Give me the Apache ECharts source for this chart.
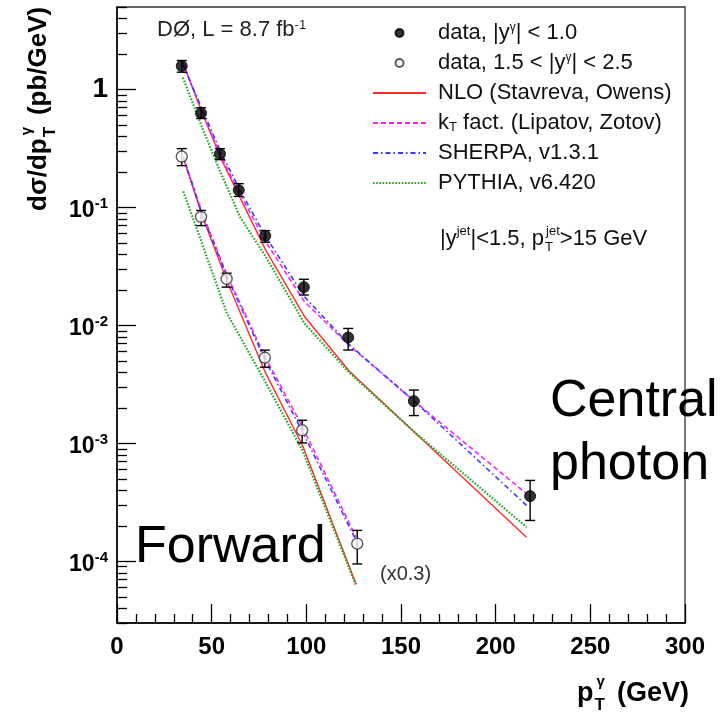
<!DOCTYPE html>
<html><head><meta charset="utf-8">
<script src="https://cdn.jsdelivr.net/npm/echarts@6/dist/echarts.min.js"></script>
<style>html,body{margin:0;padding:0;background:#fff}#c{width:727px;height:714px}</style>
</head><body><div id="c"></div>
<script>
// ---- axis ticks ----
const xTicks = [0, 50, 100, 150, 200, 250, 300];
const yMajorTicks = [1e-4, 1e-3, 1e-2, 1e-1, 1];
const yMinorTicks = [3e-5,4e-5,5e-5,6e-5,7e-5,8e-5,9e-5,
  2e-4,3e-4,4e-4,5e-4,6e-4,7e-4,8e-4,9e-4,
  2e-3,3e-3,4e-3,5e-3,6e-3,7e-3,8e-3,9e-3,
  0.02,0.03,0.04,0.05,0.06,0.07,0.08,0.09,
  0.2,0.3,0.4,0.5,0.6,0.7,0.8,0.9,
  2,3,4,5];

// ---- data: central photon |y|<1.0 ----
const centralX  = [34.2, 44.4, 54.4, 64.3, 78.3, 98.7, 122.1, 156.8, 218.2];
const centralY  = [1.58, 0.63, 0.284, 0.14, 0.0575, 0.0211, 0.0079, 0.00228, 3.57e-4];
const centralLo = [1.40, 0.567, 0.254, 0.124, 0.0506, 0.0181, 0.00618, 0.00172, 2.22e-4];
const centralHi = [1.76, 0.699, 0.315, 0.159, 0.0636, 0.0246, 0.00942, 0.00283, 4.85e-4];

// ---- data: forward photon 1.5<|y|<2.5 (x0.3) ----
const forwardX  = [34.2, 44.4, 57.9, 78.1, 97.8, 126.9];
const forwardY  = [0.27, 0.083, 0.0248, 0.00532, 0.00129, 1.41e-4];
const forwardLo = [0.226, 0.0701, 0.0211, 0.00442, 0.00101, 9.5e-5];
const forwardHi = [0.315, 0.0942, 0.0277, 0.00617, 0.00157, 1.83e-4];

// ---- theory, central ----
const thCentralX   = [34.8, 45, 55, 65, 78.5, 99, 122.5, 157, 216.3];
const nloCentral   = [1.69, 0.634, 0.258, 0.121, 0.0437, 0.0119, 0.00412, 0.00125, 1.60e-4];
const ktCentral    = [1.69, 0.64, 0.27, 0.13, 0.0514, 0.0159, 0.0068, 0.00228, 3.74e-4];
const sherpaCentral= [1.62, 0.68, 0.29, 0.14, 0.0567, 0.0175, 0.0069, 0.00228, 2.98e-4];
const pythiaCentral= [1.26, 0.475, 0.193, 0.083, 0.0384, 0.0104, 0.0040, 0.00125, 1.95e-4];

// ---- theory, forward ----
const thForwardX   = [35, 45, 58, 78, 98, 126.3];
const nloForward   = [0.263, 0.085, 0.024, 0.0041, 9.6e-4, 6.4e-5];
const ktForward    = [0.27, 0.09, 0.027, 0.0055, 0.00138, 1.60e-4];
const sherpaForward= [0.265, 0.088, 0.026, 0.0052, 0.00125, 1.50e-4];
const pythiaForward= [0.137, 0.049, 0.0127, 0.0034, 8.7e-4, 6.2e-5];

const FONT = "'Liberation Sans', Arial, Helvetica, sans-serif";

function pairs(xs, ys){ return xs.map((x,i)=>[x, ys[i]]); }

function errSeries(xs, lo, hi){
  return {
    type: 'custom', name: 'err', xAxisIndex: 0, yAxisIndex: 0, z: 5, silent: true,
    data: xs.map((x,i)=>[x, lo[i], hi[i]]),
    encode: {x: 0, y: [1, 2]},
    renderItem: function(params, api){
      const x = api.value(0);
      const a = api.coord([x, api.value(1)]);
      const b = api.coord([x, api.value(2)]);
      const c = 5;
      const st = {stroke: '#000', lineWidth: 1.4};
      return {type: 'group', children: [
        {type: 'line', shape: {x1: a[0], y1: a[1], x2: b[0], y2: b[1]}, style: st},
        {type: 'line', shape: {x1: a[0]-c, y1: a[1], x2: a[0]+c, y2: a[1]}, style: st},
        {type: 'line', shape: {x1: b[0]-c, y1: b[1], x2: b[0]+c, y2: b[1]}, style: st}
      ]};
    }
  };
}

const models = [
  {name: 'NLO',    color: '#ff2a2a', type: 'solid',        width: 1.4, c: nloCentral,    f: nloForward},
  {name: 'kT',     color: '#ff22ff', type: [5, 3],         width: 1.6, c: ktCentral,     f: ktForward},
  {name: 'SHERPA', color: '#3a3aff', type: [5, 3, 1.5, 3], width: 1.6, c: sherpaCentral, f: sherpaForward},
  {name: 'PYTHIA', color: '#1fa81f', type: [1.6, 1.6],     width: 2.2, c: pythiaCentral, f: pythiaForward}
];

const series = [];
models.forEach(m => {
  [[thCentralX, m.c], [thForwardX, m.f]].forEach(([xs, ys]) => {
    series.push({
      type: 'line', name: m.name, data: pairs(xs, ys), showSymbol: false, symbol: 'none',
      z: 3, smooth: false, animation: false,
      lineStyle: {color: m.color, type: m.type, width: m.width},
      itemStyle: {color: m.color}
    });
  });
});
series.push(errSeries(centralX, centralLo, centralHi));
series.push(errSeries(forwardX, forwardLo, forwardHi));
series.push({
  type: 'scatter', name: 'dataC', data: pairs(centralX, centralY), symbol: 'circle', symbolSize: 11, z: 6,
  itemStyle: {color: '#000', borderColor: '#000', borderWidth: 1}
});
series.push({
  type: 'scatter', name: 'dataF', data: pairs(forwardX, forwardY), symbol: 'circle', symbolSize: 11, z: 6,
  itemStyle: {color: '#fff', borderColor: '#333', borderWidth: 1.4}
});

const legendText = {
  dataC:  'data, |y{sup|γ}| < 1.0',
  dataF:  'data, 1.5 < |y{sup|γ}| < 2.5',
  NLO:    'NLO (Stavreva, Owens)',
  kT:     'k{sub|T} fact. (Lipatov, Zotov)',
  SHERPA: 'SHERPA, v1.3.1',
  PYTHIA: 'PYTHIA, v6.420'
};

const titleRich = {
  sub: {fontSize: 17, fontWeight: 'bold', fontFamily: FONT, fill: '#000', lineHeight: 17, verticalAlign: 'bottom', width: 1, align: 'left', padding: [0,0,0,1]},
  sup: {fontSize: 15, fontWeight: 'bold', fontFamily: FONT, fill: '#000', lineHeight: 15, verticalAlign: 'top', width: 13, align: 'left', padding: [0,0,0,1]}
};

const chart = echarts.init(document.getElementById('c'), null, {renderer: 'canvas'});
chart.setOption({
  animation: false,
  backgroundColor: '#fff',
  grid: {left: 117, top: 7, right: 42, bottom: 91, show: true, borderColor: '#333', borderWidth: 1.3,
         outerBoundsMode: 'none', containLabel: false},
  xAxis: {
    type: 'value', min: 0, max: 300, interval: 50,
    axisLine: {show: true, lineStyle: {color: '#000', width: 1.5}},
    axisTick: {show: true, inside: true, length: 19, lineStyle: {color: '#000', width: 1.3}},
    minorTick: {show: true, splitNumber: 5, length: 9, lineStyle: {color: '#000', width: 1.3}},
    splitLine: {show: false}, minorSplitLine: {show: false},
    axisLabel: {color: '#000', fontFamily: FONT, fontWeight: 'bold', fontSize: 24, margin: 12}
  },
  yAxis: [{
    type: 'log', logBase: 10, min: 3e-5, max: 5, position: 'left', offset: 0,
    axisLine: {show: true, lineStyle: {color: '#000', width: 1.5}},
    axisTick: {show: true, inside: true, length: 19, customValues: yMajorTicks, lineStyle: {color: '#000', width: 1.3}},
    splitLine: {show: false},
    axisLabel: {
      customValues: yMajorTicks, margin: 9, color: '#000',
      formatter: function(v){
        const e = Math.round(Math.log10(v));
        if (e === 0) return '{one|1}';
        return '{b|10}{s|' + e + '}';
      },
      rich: {
        one: {fontFamily: FONT, fontWeight: 'bold', fontSize: 28, color: '#000', lineHeight: 30},
        b: {fontFamily: FONT, fontWeight: 'bold', fontSize: 23, color: '#000', lineHeight: 30, verticalAlign: 'bottom'},
        s: {fontFamily: FONT, fontWeight: 'bold', fontSize: 15, color: '#000', lineHeight: 15, verticalAlign: 'top', padding: [4,0,0,0]}
      }
    }
  }, {
    type: 'log', logBase: 10, min: 3e-5, max: 5, position: 'left', offset: 0,
    axisLine: {show: false},
    axisTick: {show: true, inside: true, length: 10, customValues: yMinorTicks, lineStyle: {color: '#000', width: 1.3}},
    axisLabel: {show: false}, splitLine: {show: false}
  }],
  legend: {
    orient: 'vertical', left: 372, top: 22, padding: 0,
    itemWidth: 53, itemHeight: 8, itemGap: 8,
    data: [
      {name: 'dataC'}, {name: 'dataF'},
      {name: 'NLO', itemStyle: {opacity: 0}},
      {name: 'kT', itemStyle: {opacity: 0}},
      {name: 'SHERPA', itemStyle: {opacity: 0}},
      {name: 'PYTHIA', itemStyle: {opacity: 0}}
    ],
    selectedMode: false,
    formatter: function(n){ return legendText[n]; },
    textStyle: {
      fontFamily: FONT, fontSize: 22, color: '#111', lineHeight: 22, padding: [0, 0, 0, 7],
      rich: {
        sup: {fontFamily: FONT, fontSize: 12, color: '#111', lineHeight: 12, verticalAlign: 'top'},
        sub: {fontFamily: FONT, fontSize: 13, color: '#111', lineHeight: 13, verticalAlign: 'bottom'}
      }
    }
  },
  graphic: [
    {type: 'text', x: 157, y: 30, z: 10, style: {
      text: 'DØ, L = 8.7 fb{sup|-1}', font: '22px ' + FONT, fill: '#222', verticalAlign: 'middle',
      rich: {sup: {fontSize: 13, fontFamily: FONT, fill: '#222', lineHeight: 13, verticalAlign: 'top'}}
    }},
    {type: 'text', x: 440, y: 239, z: 10, style: {
      text: '|y{sup|jet}|<1.5, p{sub|T}{sup|jet}>15 GeV', font: '22px ' + FONT, fill: '#111', verticalAlign: 'middle',
      lineHeight: 32,
      rich: {
        sup: {fontSize: 13, fontFamily: FONT, fill: '#111', lineHeight: 13, verticalAlign: 'top', padding: [2,0,0,0]},
        sub: {fontSize: 13, fontFamily: FONT, fill: '#111', lineHeight: 13, verticalAlign: 'bottom', width: 1, align: 'left', padding: [0,0,1,1]}
      }
    }},
    {type: 'text', x: 380, y: 574, z: 10, style: {text: '(x0.3)', font: '20px ' + FONT, fill: '#333', verticalAlign: 'middle'}},
    {type: 'text', x: 135, y: 548, z: 10, style: {text: 'Forward', font: '52px ' + FONT, fill: '#000', verticalAlign: 'middle'}},
    {type: 'text', x: 550, y: 402, z: 10, style: {text: 'Central', font: '52px ' + FONT, fill: '#000', verticalAlign: 'middle'}},
    {type: 'text', x: 550, y: 465, z: 10, style: {text: 'photon', font: '52px ' + FONT, fill: '#000', verticalAlign: 'middle'}},
    {type: 'text', x: 39, y: 211, rotation: Math.PI / 2, z: 10, style: {
      text: 'dσ/dp{sub|T}{sup|γ} (pb/GeV)', font: 'bold 26px ' + FONT, fill: '#000', align: 'left', verticalAlign: 'middle',
      lineHeight: 40, rich: titleRich
    }},
    {type: 'text', x: 577, y: 694, z: 10, style: {
      text: 'p{sub|T}{sup|γ} (GeV)', font: 'bold 27px ' + FONT, fill: '#000', align: 'left', verticalAlign: 'middle',
      lineHeight: 40, rich: titleRich
    }}
  ],
  series: series
});
</script></body></html>
